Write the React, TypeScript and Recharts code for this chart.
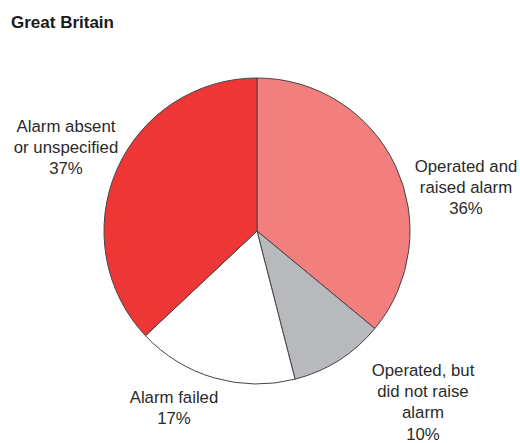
import React from "react";
import { PieChart, Pie, Cell } from "recharts";

// ---- data ----
const categories = [
  "Operated and raised alarm",
  "Operated, but did not raise alarm",
  "Alarm failed",
  "Alarm absent or unspecified",
];
const values = [36, 10, 17, 37];
const labelLines: string[][] = [
  ["Operated and", "raised alarm"],
  ["Operated, but", "did not raise", "alarm"],
  ["Alarm failed"],
  ["Alarm absent", "or unspecified"],
];
const title = "Great Britain";

// ---- styles / layout ----
const colors = ["#F37E7E", "#B8B9BD", "#FFFFFF", "#EE3636"];
const labelOffsets = [
  { dx: 209, dy: -59 },
  { dx: 166, dy: 145 },
  { dx: -83, dy: 172 },
  { dx: -191, dy: -99 },
];
const W = 520;
const H = 443;
const CX = 257;
const CY = 231;
const R = 153;
const FONT = "'Liberation Sans', Arial, sans-serif";
const LINE_H = 21.2;

const data = categories.map((name, i) => ({ name, value: values[i] }));

const renderLabel = (props: any) => {
  const i = props.index as number;
  const cx = typeof props.cx === "number" ? props.cx : CX;
  const cy = typeof props.cy === "number" ? props.cy : CY;
  const off = labelOffsets[i];
  const x = cx + off.dx;
  const y0 = cy + off.dy;
  const lines = [...labelLines[i], `${values[i]}%`];
  return (
    <text
      key={`lbl-${i}`}
      x={x}
      y={y0}
      textAnchor="middle"
      fill="#2a2a2a"
      fontFamily={FONT}
      fontSize={16.8}
    >
      {lines.map((l, k) => (
        <tspan key={k} x={x} y={y0 + k * LINE_H}>
          {l}
        </tspan>
      ))}
    </text>
  );
};

export default function App() {
  return (
    <div style={{ position: "absolute", left: 0, top: 0, width: W, height: H, background: "#fff" }}>
      <PieChart width={W} height={H} margin={{ top: 0, right: 0, bottom: 0, left: 0 }}>
        <text x={11} y={28} fontFamily={FONT} fontSize={17} fontWeight="bold" fill="#1a1a1a">
          {title}
        </text>
        <Pie
          data={data}
          dataKey="value"
          nameKey="name"
          cx={CX}
          cy={CY}
          outerRadius={R}
          innerRadius={0}
          startAngle={90}
          endAngle={-270}
          stroke="#444"
          strokeWidth={1}
          label={renderLabel}
          labelLine={false}
          isAnimationActive={false}
        >
          {data.map((d, i) => (
            <Cell key={d.name} fill={colors[i]} />
          ))}
        </Pie>
      </PieChart>
    </div>
  );
}
